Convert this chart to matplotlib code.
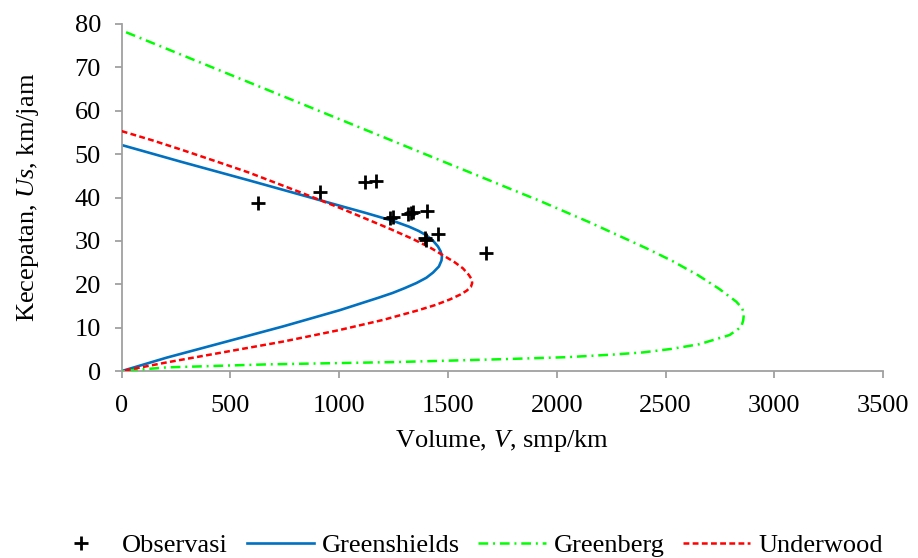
import matplotlib
matplotlib.use('Agg')
from matplotlib import pyplot as plt

plt.rcParams['font.family'] = 'Liberation Serif'
plt.rcParams['mathtext.fontset'] = 'custom'
plt.rcParams['mathtext.rm'] = 'Liberation Serif'
plt.rcParams['mathtext.it'] = 'Liberation Serif:italic'
plt.rcParams['lines.scale_dashes'] = False

# observed points (volume, speed)
obs_v = [627, 911, 1118, 1168, 1235, 1248, 1317, 1330, 1340, 1404, 1393, 1398, 1454, 1673]
obs_us = [38.7, 41.2, 43.5, 43.9, 35.3, 35.6, 36.3, 36.5, 36.6, 36.9, 30.7, 30.2, 31.5, 27.3]

gs_v = [0, 276, 582, 811, 1003, 1118, 1200, 1265, 1320, 1365, 1400, 1430, 1454, 1466, 1472, 1470,
        1458, 1431, 1400, 1355, 1300, 1245, 1180, 1000, 742, 497, 207, 0]
gs_us = [52.1, 48.2, 44.0, 40.8, 38.1, 36.5, 35.3, 34.3, 33.3, 32.3, 31.3, 30.1, 28.7, 27.6, 26.5, 25.5,
         24.1, 22.7, 21.5, 20.3, 19.1, 18.0, 16.9, 14.0, 10.3, 7.0, 3.1, 0.0]

# Greenberg curve
gb_v = [20, 896, 1830, 1914, 2150, 2412, 2530, 2649, 2745, 2825, 2852, 2860, 2857, 2848,
        2794, 2656, 2526, 2396, 2258, 2044, 1722, 1278, 666, 207, 60, 0]
gb_us = [78.1, 60.2, 41.1, 39.4, 34.3, 28.3, 25.4, 22.1, 19.0, 16.0, 14.5, 13.2, 11.7, 10.2,
         8.3, 6.2, 5.1, 4.3, 3.8, 3.2, 2.7, 2.1, 1.54, 0.85, 0.25, 0.0]

# Underwood curve
uw_v = [0, 140, 276, 430, 582, 811, 1003, 1118, 1232, 1340, 1420, 1480, 1530, 1568, 1595, 1608,
        1611, 1605, 1585, 1555, 1508, 1440, 1355, 1202, 1000, 742, 497, 207, 0]
uw_us = [55.3, 53.2, 51.0, 48.4, 45.8, 41.4, 37.6, 35.2, 32.8, 30.4, 28.4, 26.6, 25.1, 23.7, 22.2, 21.2,
         20.3, 19.4, 18.5, 17.6, 16.5, 15.2, 13.9, 11.8, 9.45, 6.8, 4.6, 2.0, 0.0]

names = ['Observasi', 'Greenshields', 'Greenberg', 'Underwood']

fig = plt.figure(figsize=(9.18, 5.58), dpi=100)
ax = fig.add_axes([0.1326, 0.335, 0.8294, 0.622])

p1, = ax.plot(obs_v, obs_us, linestyle='none', marker='+', color='black',
              markersize=10, markeredgewidth=2.0, zorder=5)
p2, = ax.plot(gs_v, gs_us, color='#0070C0', linewidth=1.9, zorder=2)
p3, = ax.plot(gb_v, gb_us, color='#00FF00', linewidth=1.8, zorder=3,
              dashes=[7, 3.5, 1.4, 3.5])
p4, = ax.plot(uw_v, uw_us, color='#FF0000', linewidth=1.8, zorder=4,
              dashes=[4.2, 2.4])

ax.set_xlim(0, 3500)
ax.set_ylim(0, 80)
ax.set_xticks(range(0, 3501, 500))
ax.set_yticks(range(0, 81, 10))

for s in ['top', 'right']:
    ax.spines[s].set_visible(False)
for s in ['left', 'bottom']:
    ax.spines[s].set_color('#A0A0A0')
    ax.spines[s].set_linewidth(1.3)
ax.tick_params(axis='both', direction='out', length=5, width=1.3, color='#A0A0A0',
               labelsize=19)
ax.tick_params(axis='y', pad=10)
ax.tick_params(axis='x', pad=12)

ax.set_xlabel(r'Volume, $V$, smp/km', fontsize=19, labelpad=8)
ax.set_ylabel(r'Kecepatan, $Us$, km/jam', fontsize=19, labelpad=24)

fig.legend((p1, p2, p3, p4), names, loc='center', bbox_to_anchor=(465 / 918, 1 - 545 / 558),
           ncol=4, frameon=False, fontsize=19, handlelength=2.55, handletextpad=0.3,
           columnspacing=0.7, borderpad=0)

fig.savefig('out.png', dpi=100)
